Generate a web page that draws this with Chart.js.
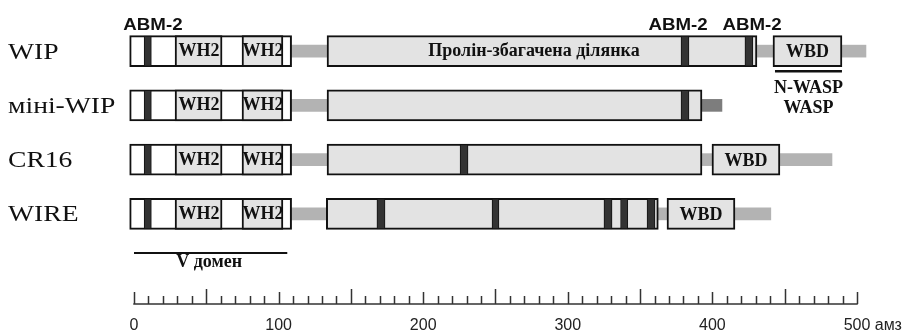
<!DOCTYPE html>
<html>
<head>
<meta charset="utf-8">
<script src="https://cdn.jsdelivr.net/npm/chart.js@4"></script>
<style>
  html, body { margin: 0; padding: 0; background: #fff; }
  #wrap { width: 907px; height: 332px; position: relative; }
</style>
</head>
<body>
<div id="wrap"><canvas id="domains"></canvas></div>
<script>
// Domain maps, positions in amino acids
const proteins = ['WIP', 'міні-WIP', 'CR16', 'WIRE'];

const vBoxes = [
    ['WIP', -3, 109], ['міні-WIP', -3, 109], ['CR16', -3, 109], ['WIRE', -3, 109]
];
const wh2Domains = [
    ['WIP', 28.4, 60.9], ['WIP', 74.7, 103],
    ['міні-WIP', 28.4, 60.9], ['міні-WIP', 74.7, 103],
    ['CR16', 28.4, 60.9], ['CR16', 74.7, 103],
    ['WIRE', 28.4, 60.9], ['WIRE', 74.7, 103]
];
const prolineBoxes = [
    ['WIP', 133.5, 430.8], ['міні-WIP', 133.5, 392.8], ['CR16', 133.5, 392.8], ['WIRE', 133, 362.6]
];
const abmMotifs = [
    ['WIP', 7, 12], ['WIP', 378.3, 383.8], ['WIP', 422.5, 428],
    ['міні-WIP', 7, 12], ['міні-WIP', 378.3, 383.8],
    ['CR16', 7, 12], ['CR16', 225.5, 231],
    ['WIRE', 7, 12], ['WIRE', 168, 173.6], ['WIRE', 247.6, 252.4],
    ['WIRE', 325, 330.6], ['WIRE', 336.5, 341.5], ['WIRE', 354.8, 360.3]
];
const wbdDomains = [
    ['WIP', 441.9, 489.6], ['CR16', 399.7, 446.7], ['WIRE', 368.6, 415.6]
];
const linkers = [
    ['WIP', 107, 135], ['WIP', 430, 443], ['WIP', 488, 506.2],
    ['міні-WIP', 107, 135],
    ['CR16', 107, 135], ['CR16', 392, 401], ['CR16', 445, 482.7],
    ['WIRE', 107, 135], ['WIRE', 362, 370], ['WIRE', 414, 440.4]
];
const miniTail = [['міні-WIP', 392, 406.6]];

const abmLabels = [13.1, 376.2, 427.4];   // над WIP
const prolineLabelAt = 276.6;
const rulerLabels = [0, 100, 200, 300, 400, 500];
const rulerUnit = 'амз';

const toPoints = arr => arr.map(([p, a, b]) => ({ y: p, x: [a, b] }));
const mid = (a, b) => (a + b) / 2;

function drawText(ctx, text, x, y, font, align, sx) {
    ctx.save();
    ctx.font = font;
    ctx.textAlign = align || 'center';
    ctx.textBaseline = 'alphabetic';
    ctx.translate(x, y);
    ctx.scale(sx || 1, 1);
    ctx.fillText(text, 0, 0);
    ctx.restore();
}

const annotations = {
    id: 'annotations',
    afterDatasetsDraw(chart) {
        const { ctx, scales: { x, y } } = chart;
        const row = p => y.getPixelForValue(proteins.indexOf(p));
        const serifB = 'bold 18px "Liberation Serif", "Times New Roman", serif';
        ctx.fillStyle = '#111';

        // row names
        proteins.forEach(p => drawText(ctx, p, 8, row(p) + 7.5, '23px "Liberation Serif", serif', 'left', 1.2));

        // ABM-2 labels
        abmLabels.forEach(v => drawText(ctx, 'ABM-2', x.getPixelForValue(v), row('WIP') - 21,
            'bold 17px "Liberation Sans", Arial, sans-serif', 'center', 1.1));

        wh2Domains.forEach(([p, a, b]) => drawText(ctx, 'WH2', x.getPixelForValue(mid(a, b)) + 0.5, row(p) + 5, serifB));
        wbdDomains.forEach(([p, a, b]) => drawText(ctx, 'WBD', x.getPixelForValue(mid(a, b)), row(p) + 6, serifB));
        drawText(ctx, 'Пролін-збагачена ділянка', x.getPixelForValue(prolineLabelAt), row('WIP') + 4.5, serifB);

        // N-WASP / WASP binding
        const [, wa, wb] = wbdDomains[0];
        const wy = row('WIP');
        ctx.strokeStyle = '#111';
        ctx.lineWidth = 2.5;
        ctx.beginPath();
        ctx.moveTo(x.getPixelForValue(wa) + 2, wy + 20);
        ctx.lineTo(x.getPixelForValue(wb), wy + 20);
        ctx.stroke();
        const wc = x.getPixelForValue(mid(wa, wb)) + 1;
        drawText(ctx, 'N-WASP', wc, wy + 42, serifB);
        drawText(ctx, 'WASP', wc, wy + 62, serifB);

        // V domain
        const vy = row('WIRE');
        ctx.lineWidth = 2;
        ctx.beginPath();
        ctx.moveTo(x.getPixelForValue(0), vy + 39);
        ctx.lineTo(x.getPixelForValue(106), vy + 39);
        ctx.stroke();
        drawText(ctx, 'V домен', x.getPixelForValue(52), vy + 53, serifB);

        // ruler
        const base = 304;
        ctx.strokeStyle = '#333';
        ctx.lineWidth = 1.5;
        ctx.beginPath();
        ctx.moveTo(x.getPixelForValue(0) - 0.75, base);
        ctx.lineTo(x.getPixelForValue(500) + 0.75, base);
        for (let v = 0; v <= 500; v += 10) {
            const h = v % 100 === 0 ? 12 : v % 50 === 0 ? 15 : 8;
            const px = Math.round(x.getPixelForValue(v)) + 0.5;
            ctx.moveTo(px, base);
            ctx.lineTo(px, base - h);
        }
        ctx.stroke();
        ctx.fillStyle = '#222';
        const sans = '16px "Liberation Sans", Arial, sans-serif';
        rulerLabels.forEach(v => drawText(ctx, String(v), x.getPixelForValue(v), 330, sans));
        ctx.font = sans;
        const last = rulerLabels[rulerLabels.length - 1];
        const lw = ctx.measureText(String(last)).width;
        drawText(ctx, ' ' + rulerUnit, x.getPixelForValue(last) + lw / 2, 330, sans, 'left');
    }
};

const box = { borderColor: '#111', borderWidth: 2, borderSkipped: false, barThickness: 31, grouped: false };

new Chart(document.getElementById('domains'), {
    type: 'bar',
    data: {
        labels: proteins,
        datasets: [
            { label: 'ABM-2', data: toPoints(abmMotifs), backgroundColor: '#333', borderColor: '#111',
              borderWidth: 1, borderSkipped: false, barThickness: 30, grouped: false, order: 1 },
            { label: 'WH2', data: toPoints(wh2Domains), backgroundColor: '#e3e3e3', ...box, order: 2 },
            { label: 'V', data: toPoints(vBoxes), backgroundColor: '#ffffff', ...box, order: 3 },
            { label: 'Pro', data: toPoints(prolineBoxes), backgroundColor: '#e3e3e3', ...box, order: 3 },
            { label: 'WBD', data: toPoints(wbdDomains), backgroundColor: '#e3e3e3', ...box, order: 3 },
            { label: 'linker', data: toPoints(linkers), backgroundColor: '#b3b3b3', borderWidth: 0,
              barThickness: 12, grouped: false, order: 5 },
            { label: 'tail', data: toPoints(miniTail), backgroundColor: '#7d7d7d', borderWidth: 0,
              barThickness: 12, grouped: false, order: 5 }
        ]
    },
    options: {
        indexAxis: 'y',
        responsive: true,
        maintainAspectRatio: false,
        animation: false,
        layout: { padding: { left: 0, right: 0, top: 24, bottom: 91 } },
        plugins: { legend: { display: false }, tooltip: { enabled: false } },
        scales: {
            x: { type: 'linear', min: -92.67, max: 534.58, display: false },
            y: { type: 'category', offset: true, display: false }
        }
    },
    plugins: [annotations]
});
</script>
</body>
</html>
